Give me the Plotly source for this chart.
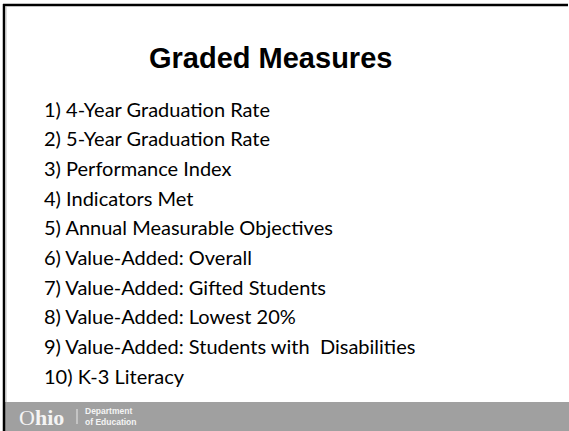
import plotly.graph_objects as go

title = "Graded Measures"
item_numbers = ["1)", "2)", "3)", "4)", "5)", "6)", "7)", "8)", "9)", "10)"]
item_labels = [
    "4-Year Graduation Rate",
    "5-Year Graduation Rate",
    "Performance Index",
    "Indicators Met",
    "Annual Measurable Objectives",
    "Value-Added: Overall",
    "Value-Added: Gifted Students",
    "Value-Added: Lowest 20%",
    "Value-Added: Students with  Disabilities",
    "K-3 Literacy",
]
logo_word = "Ohio"
logo_dept = ["Department", "of Education"]

W, H = 569, 431
fig = go.Figure()

# slide frame: top and left black lines
fig.add_shape(type="line", x0=3, x1=568, y0=5, y1=5, line=dict(color="black", width=2.5), layer="above")
fig.add_shape(type="line", x0=4, x1=4, y0=4, y1=431, line=dict(color="black", width=2.5), layer="above")
fig.add_shape(type="line", x0=6, x1=6, y0=6, y1=402, line=dict(color="#bdbdbd", width=1), layer="above")
# footer bar
fig.add_shape(type="rect", x0=5, x1=569, y0=402, y1=431, fillcolor="#a0a0a0", line=dict(width=0), layer="below")

fig.add_annotation(x=270, y=58, text="<b>" + title + "</b>", showarrow=False,
                   font=dict(family="Liberation Sans, Arial", size=29, color="black"),
                   xanchor="center", yanchor="middle")

y0, dy = 108.5, 29.7
for i, (n, lab) in enumerate(zip(item_numbers, item_labels)):
    fig.add_annotation(x=42, y=y0 + i * dy, text=n + " " + lab, showarrow=False,
                       font=dict(family="Lato, Carlito, Calibri", size=20, color="black"),
                       xanchor="left", yanchor="middle")

fig.add_annotation(x=17, y=417, text=logo_word[0] + "<b>" + logo_word[1:] + "</b>", showarrow=False,
                   font=dict(family="Liberation Serif, Times New Roman", size=22, color="#f4f4f4"),
                   xanchor="left", yanchor="middle")
fig.add_shape(type="line", x0=77, x1=77, y0=409, y1=424, line=dict(color="#e8e8e8", width=1))
fig.add_annotation(x=83, y=416.5, text="<b>" + logo_dept[0] + "</b><br><b>" + logo_dept[1] + "</b>",
                   showarrow=False, align="left",
                   font=dict(family="Liberation Sans, Arial", size=8.5, color="#f4f4f4"),
                   xanchor="left", yanchor="middle")

fig.update_xaxes(range=[0, W], visible=False, fixedrange=True)
fig.update_yaxes(range=[H, 0], visible=False, fixedrange=True)
fig.update_layout(width=W, height=H, margin=dict(l=0, r=0, t=0, b=0),
                  paper_bgcolor="white", plot_bgcolor="white", showlegend=False)

fig.write_html("out.html", config={"displayModeBar": False},
               post_script="document.body.style.margin='0';document.body.style.overflow='hidden';")
